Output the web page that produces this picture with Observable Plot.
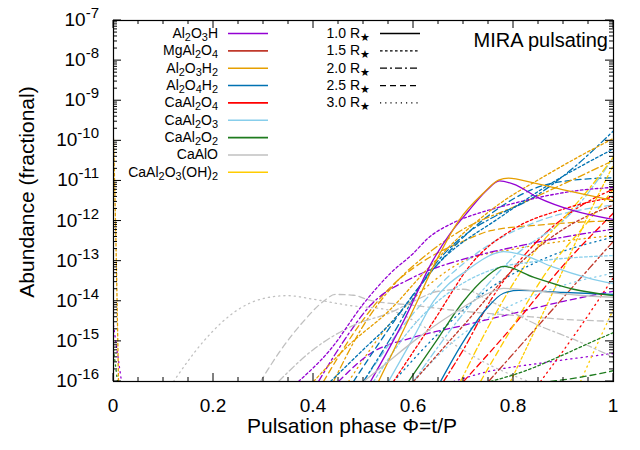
<!DOCTYPE html>
<html><head><meta charset="utf-8">
<script src="https://cdn.jsdelivr.net/npm/d3@7"></script>
<script src="https://cdn.jsdelivr.net/npm/@observablehq/plot@0.6"></script>
<style>
body{margin:0;background:#fff}
svg{font-family:"Liberation Sans",Arial,Helvetica,sans-serif}
</style>
</head><body><div id="chart"></div>
<script>
// ---- categories ----
const species = ["Al2O3H","MgAl2O4","Al2O3H2","Al2O4H2","CaAl2O4","CaAl2O3","CaAl2O2","CaAlO","CaAl2O3(OH)2"];
const speciesLabels = ["Al_2O_3H","MgAl_2O_4","Al_2O_3H_2","Al_2O_4H_2","CaAl_2O_4","CaAl_2O_3","CaAl_2O_2","CaAlO","CaAl_2O_3(OH)_2"];
const speciesColors = ["#9400d3","#c0392b","#e69f00","#0072b2","#ff0000","#87ceeb","#1e7b1e","#c0c0c0","#ffcc00"];
const radii = ["1.0","1.5","2.0","2.5","3.0"];
const radiusDash = {"1.0":null,"1.5":"2.6,2.4","2.0":"7,3,2,3","2.5":"6,4","3.0":"1.2,4"};
const xTicks = [0,0.2,0.4,0.6,0.8,1];
const xTickLabels = ["0","0.2","0.4","0.6","0.8","1"];
const yExponents = [-16,-15,-14,-13,-12,-11,-10,-9,-8,-7];

// ---- series values: [phase, log10(abundance)] (null = gap) ----
const Al2O3H = {
  "1.0": [[0.514,-16],[0.58,-14.5],[0.638,-13],[0.674,-12.3],[0.71,-11.75],[0.745,-11.25],[0.772,-11.0],[0.8,-11.08],[0.85,-11.42],[0.92,-11.74],[1,-11.96]],
  "1.5": [[0.37,-16],[0.434,-15.2],[0.5,-14.06],[0.554,-13.3],[0.6,-12.8],[0.628,-12.44],[0.68,-12.04],[0.734,-11.79],[0.77,-11.66],[0.84,-11.44],[0.928,-11.24],[1,-11.16]],
  "2.0": [[0.41,-16],[0.46,-15.0],[0.514,-14.1],[0.6,-13.4],[0.7,-12.95],[0.8,-12.65],[0.9,-12.4],[1,-12.2]],
  "2.5": [[0.45,-16],[0.514,-15.3],[0.6,-14.9],[0.7,-14.6],[0.8,-14.3],[0.9,-14.0],[1,-13.75]],
  "3.0": [[0,-14.6],[0.008,-15.3],[0.016,-16],[0.3,null],[0.68,-16],[0.75,-15.75],[0.85,-15.55],[1,-15.3]]
};
const MgAl2O4 = {
  "1.5": [[0.6,-16],[0.7,-14.6],[0.8,-13.2],[0.9,-12.2],[1,-11.6]],
  "2.0": [[0.75,-16],[0.85,-14.6],[0.95,-13.2],[1,-12.5]]
};
const Al2O3H2 = {
  "1.0": [[0.53,-16],[0.6,-14.2],[0.645,-13],[0.69,-12.0],[0.74,-11.3],[0.77,-10.98],[0.79,-10.93],[0.84,-11.05],[0.9,-11.22],[1,-11.49]],
  "1.5": [[0,-9.94],[0.004,-12],[0.01,-16],[0.2,null],[0.4,-16],[0.47,-15.1],[0.554,-14.2],[0.62,-13.3],[0.7,-12.3],[0.78,-11.5],[0.854,-10.94],[0.93,-10.4],[1,-9.94]],
  "2.0": [[0.44,-16],[0.5,-14.6],[0.56,-13.6],[0.63,-12.8],[0.7,-12.2],[0.8,-11.65],[0.894,-11.11],[1,-10.49]],
  "2.5": [[0.42,-16],[0.48,-14.8],[0.55,-13.7],[0.62,-13.0],[0.7,-12.5],[0.754,-12.24],[0.85,-12.1],[1,-11.99]],
  "3.0": [[0.47,-16],[0.55,-14.6],[0.63,-13.6],[0.7,-13.0],[0.8,-12.7],[0.9,-12.5],[1,-12.36]]
};
const Al2O4H2 = {
  "1.0": [[0.654,-16],[0.7,-15.0],[0.745,-14.2],[0.78,-13.8],[0.81,-13.73],[0.9,-13.78],[1,-13.83]],
  "1.5": [[0.434,-16],[0.5,-15.2],[0.554,-14.55],[0.654,-13.0],[0.774,-11.9],[0.87,-11.1],[1,-10.2]],
  "2.0": [[0.5,-16],[0.56,-14.8],[0.634,-13.23],[0.714,-12.24],[0.754,-11.94],[0.84,-11.41],[0.92,-10.67],[1,-9.75]],
  "2.5": [[0.48,-16],[0.55,-14.7],[0.62,-13.5],[0.7,-12.4],[0.78,-11.6],[0.85,-11.15],[0.92,-10.98],[1,-10.92]],
  "3.0": [[0.56,-16],[0.65,-14.8],[0.75,-13.7],[0.85,-13.0],[1,-12.4]]
};
const CaAl2O4 = {
  "1.5": [[0.56,-16],[0.64,-14.5],[0.72,-13.0],[0.8,-12.2],[0.9,-11.7],[1,-11.4]],
  "2.0": [[0.66,-16],[0.7,-15.2],[0.754,-13.98],[0.84,-12.6],[0.92,-11.74],[1,-11.2]],
  "2.5": [[0.7,-16],[0.8,-14.6],[0.9,-13.1],[1,-11.8]],
  "3.0": [[0.854,-16],[0.93,-14.7],[1,-13.4]]
};
const CaAl2O3 = {
  "1.0": [[0.55,-16],[0.6,-14.9],[0.64,-14.0],[0.71,-13.2],[0.76,-12.82],[0.78,-12.76],[0.82,-12.85],[0.88,-13.15],[0.95,-13.42],[1,-13.56]],
  "1.5": [[0.52,-16],[0.6,-14.6],[0.68,-13.7],[0.76,-13.2],[0.85,-13.0],[1,-12.86]],
  "2.0": [[0.6,-16],[0.7,-14.3],[0.8,-12.9],[0.92,-11.74],[1,-10.42]],
  "2.5": [[0.5,-16],[0.58,-14.6],[0.66,-13.5],[0.75,-12.6],[0.85,-12.0],[1,-11.6]],
  "3.0": [[0.6,-16],[0.68,-15],[0.78,-14.2],[0.9,-13.6],[1,-13.3]]
};
const CaAl2O2 = {
  "1.0": [[0.59,-16],[0.645,-15],[0.7,-14],[0.745,-13.4],[0.78,-13.13],[0.84,-13.4],[0.92,-13.7],[1,-13.86]],
  "1.5": [[0.754,-16],[0.82,-15.75],[0.888,-15.4],[0.95,-15.05],[1,-14.78]],
  "2.5": [[0.874,-16],[0.94,-15.88],[1,-15.73]],
  "3.0": [[0,-15.2],[0.008,-16]]
};
const CaAlO = {
  "1.0": [[0.5,-16],[0.55,-15.5],[0.6,-15.0],[0.68,-14.3],[0.75,-13.8],[0.78,-13.68],[0.85,-13.75],[0.93,-13.85],[1,-13.9]],
  "2.0": [[0.33,-16],[0.4,-15.2],[0.48,-14.6],[0.554,-14.28],[0.6,-14.0],[0.65,-13.75],[0.7,-13.7],[0.754,-14.0],[0.85,-14.6],[0.93,-15.0],[1,-15.4]],
  "2.5": [[0.294,-16],[0.33,-15.3],[0.38,-14.5],[0.42,-14.0],[0.444,-13.83],[0.48,-13.85],[0.514,-13.98],[0.6,-14.1],[0.7,-14.25],[0.8,-14.35],[0.9,-14.45],[1,-14.5]],
  "3.0": [[0.12,-16],[0.18,-15.0],[0.25,-14.2],[0.3,-13.93],[0.348,-13.86],[0.4,-13.95],[0.47,-14.1],[0.554,-14.23],[0.65,-14.85],[0.754,-15.6],[0.83,-16]]
};
const CaAl2O3OH2 = {
  "1.5": [[0.794,-16],[0.874,-13.9],[0.954,-11.74],[1,-10.6]],
  "2.0": [[0.694,-16],[0.76,-14.4],[0.84,-12.8],[0.914,-11.74],[0.97,-10.9],[1,-10.4]],
  "2.5": [[0.734,-16],[0.8,-14.6],[0.87,-13.2],[0.95,-12.0],[1,-11.2]],
  "3.0": [[0.934,-16],[0.97,-15.0],[1,-14.2]]
};
const seriesBySpecies = [Al2O3H, MgAl2O4, Al2O3H2, Al2O4H2, CaAl2O4, CaAl2O3, CaAl2O2, CaAlO, CaAl2O3OH2];

// ---- build table ----
const rows = [];
species.forEach((sp, i) => {
  const s = seriesBySpecies[i];
  for (const r of radii) {
    if (!s[r]) continue;
    for (const [phi, lg] of s[r]) rows.push({species: sp, radius: r, phi, ab: lg == null ? NaN : Math.pow(10, lg)});
  }
});

const drawOrder = ["3.0","2.5","2.0","1.5","1.0"];
const plot = Plot.plot({
  width: 640, height: 450,
  marginLeft: 113, marginRight: 27, marginTop: 20, marginBottom: 69,
  x: {domain: [0, 1], axis: null},
  y: {type: "log", domain: [1e-16, 1e-7], axis: null},
  color: {domain: species, range: speciesColors},
  style: {background: "white", fontFamily: "Liberation Sans, Arial, sans-serif"},
  marks: [
    ...drawOrder.map(r => Plot.line(rows.filter(d => d.radius === r), {
      x: "phi", y: "ab", z: "species", stroke: "species",
      strokeWidth: 1.3, strokeDasharray: radiusDash[r] || undefined,
      curve: "monotone-x", clip: true
    })),
    Plot.frame({stroke: "black", strokeWidth: 1.2})
  ]
});
document.getElementById("chart").appendChild(plot);

// ---- axes, ticks, labels, legend drawn with the plot's scales ----
const sx = plot.scale("x"), sy = plot.scale("y");
const svg = d3.select(plot);
const x0 = sx.apply(0), x1 = sx.apply(1), yB = sy.apply(1e-16), yT = sy.apply(1e-7);
const g = svg.append("g").attr("stroke", "black").attr("stroke-width", 1);
// x ticks
for (let k = 0; k <= 20; k++) {
  const v = k / 20, X = sx.apply(v), len = (k % 4 === 0) ? 8 : 4;
  g.append("line").attr("x1", X).attr("x2", X).attr("y1", yB).attr("y2", yB - len);
  g.append("line").attr("x1", X).attr("x2", X).attr("y1", yT).attr("y2", yT + len);
}
// y ticks
for (const e of yExponents) {
  for (let m = 1; m <= 9; m++) {
    if (e === -7 && m > 1) continue;
    const Y = sy.apply(m * Math.pow(10, e)), len = m === 1 ? 8 : 4;
    g.append("line").attr("x1", x0).attr("x2", x0 + len).attr("y1", Y).attr("y2", Y);
    g.append("line").attr("x1", x1).attr("x2", x1 - len).attr("y1", Y).attr("y2", Y);
  }
}
const txt = svg.append("g").attr("fill", "black");
// y tick labels
for (const e of yExponents) {
  const t = txt.append("text").attr("x", 99).attr("y", sy.apply(Math.pow(10, e)) + 6)
    .attr("text-anchor", "end").attr("font-size", 19);
  t.append("tspan").text("10");
  t.append("tspan").attr("dy", -8).attr("font-size", 15).text("-" + (-e));
}
// x tick labels
xTicks.forEach((v, i) => {
  txt.append("text").attr("x", sx.apply(v)).attr("y", 412).attr("text-anchor", "middle")
    .attr("font-size", 19).text(xTickLabels[i]);
});
// axis titles
txt.append("text").attr("x", 352).attr("y", 433).attr("text-anchor", "middle").attr("font-size", 21)
  .text("Pulsation phase \u03A6=t/P");
txt.append("text").attr("transform", "translate(34,192) rotate(-90)").attr("text-anchor", "middle")
  .attr("font-size", 21).text("Abundance (fractional)");
txt.append("text").attr("x", 608).attr("y", 47).attr("text-anchor", "end").attr("font-size", 20)
  .text("MIRA pulsating");

// legend
const legFont = 14;
function richText(sel, s, size) {
  const parts = s.split(/(_[0-9]+)/).filter(p => p.length);
  for (const p of parts) {
    if (p[0] === "_") {
      sel.append("tspan").attr("baseline-shift", "-3").attr("font-size", size * 0.78).text(p.slice(1));
    } else {
      sel.append("tspan").text(p);
    }
  }
}
const legY0 = 33.5, legDy = 17.35;
species.forEach((sp, i) => {
  const y = legY0 + i * legDy;
  const t = txt.append("text").attr("x", 218).attr("y", y + 4.5).attr("text-anchor", "end").attr("font-size", legFont);
  richText(t, speciesLabels[i], legFont);
  svg.append("line").attr("x1", 228).attr("x2", 268).attr("y1", y).attr("y2", y)
    .attr("stroke", speciesColors[i]).attr("stroke-width", 1.6);
});
radii.forEach((r, i) => {
  const y = legY0 + i * legDy;
  const t = txt.append("text").attr("x", 370).attr("y", y + 4.5).attr("text-anchor", "end").attr("font-size", legFont);
  t.append("tspan").text(r + " R");
  t.append("tspan").attr("baseline-shift", "-3").attr("font-size", 11).text("\u2605");
  svg.append("line").attr("x1", 380).attr("x2", 420).attr("y1", y).attr("y2", y)
    .attr("stroke", "black").attr("stroke-width", 1.3)
    .attr("stroke-dasharray", radiusDash[r]);
});
</script>
</body></html>
